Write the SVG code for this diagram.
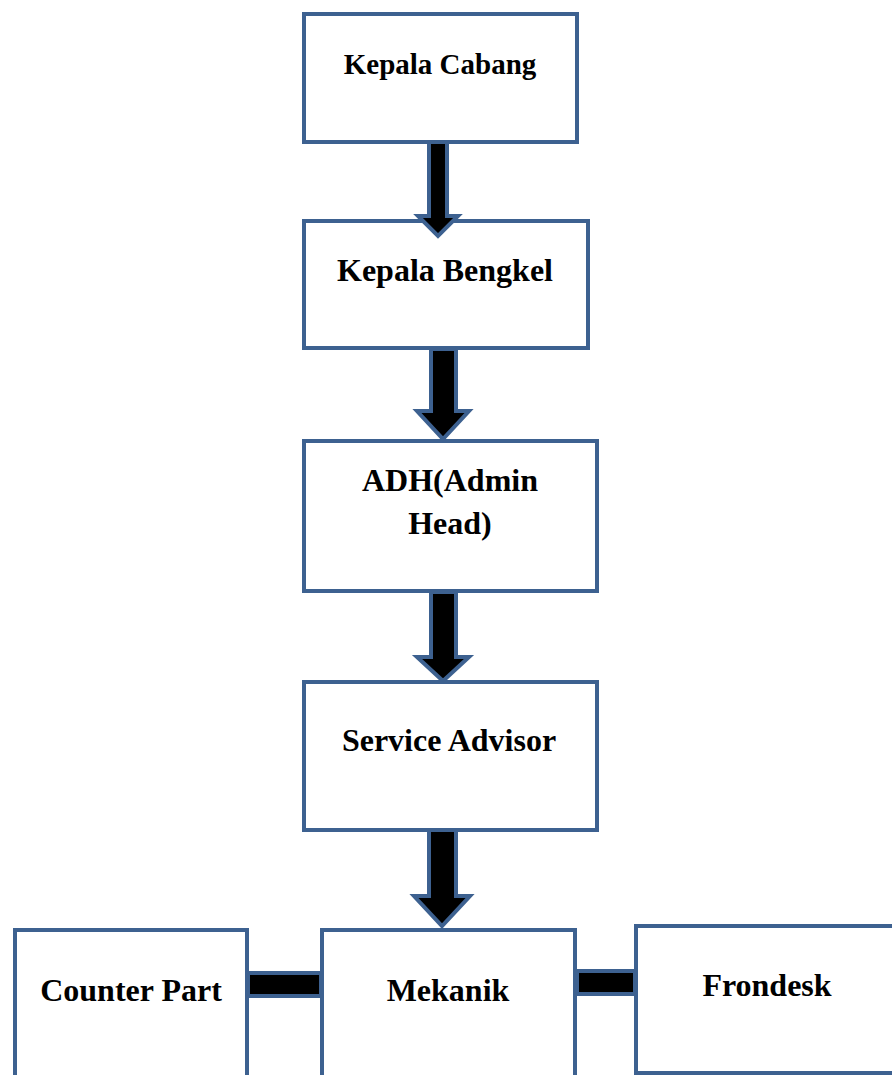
<svg xmlns="http://www.w3.org/2000/svg" width="892" height="1075" viewBox="0 0 892 1075">
<style>
.box{fill:#fff;stroke:#3D6190;stroke-width:4}
.arr{fill:#000;stroke:#3D6190;stroke-width:4;stroke-linejoin:miter}
.t{font-family:"Liberation Serif","Times New Roman",serif;font-weight:bold;font-size:32px;fill:#000;text-anchor:middle}
.s{font-size:29px}
</style>
<rect width="892" height="1075" fill="#fff"/>
<g id="n1"><rect class="box" x="304" y="14" width="273" height="128"/><text class="t s" x="440" y="74">Kepala Cabang</text></g>
<g id="n2"><rect class="box" x="304" y="221" width="284" height="127"/><text class="t" x="445" y="281">Kepala Bengkel</text></g>
<g id="n3"><rect class="box" x="304" y="441" width="293" height="150"/><text class="t" x="450" y="491">ADH(Admin</text><text class="t" x="450" y="534">Head)</text></g>
<g id="n4"><rect class="box" x="304" y="682" width="293" height="148"/><text class="t" x="449" y="751">Service Advisor</text></g>
<g id="n5"><rect class="box" x="15" y="930" width="232" height="160"/><text class="t" x="131" y="1001">Counter Part</text></g>
<g id="n6"><rect class="box" x="322" y="930" width="253" height="160"/><text class="t" x="448" y="1001">Mekanik</text></g>
<g id="n7"><rect class="box" x="636" y="926" width="270" height="147"/><text class="t" x="767" y="996">Frondesk</text></g>
<g id="connectors">
<path class="arr" d="M429,142 L447,142 L447,216 L458,216 L438,236 L418,216 L429,216 Z"/>
<path class="arr" d="M431,349 L456,349 L456,411 L469,411 L443,439 L417,411 L431,411 Z"/>
<path class="arr" d="M431,592 L456,592 L456,657 L469,657 L443,681 L417,657 L431,657 Z"/>
<path class="arr" d="M429,830 L456,830 L456,896 L470,896 L442,926 L414,896 L429,896 Z"/>
<rect class="arr" x="248" y="973" width="73" height="23"/>
<rect class="arr" x="577" y="971" width="58" height="23"/>
</g>
</svg>
